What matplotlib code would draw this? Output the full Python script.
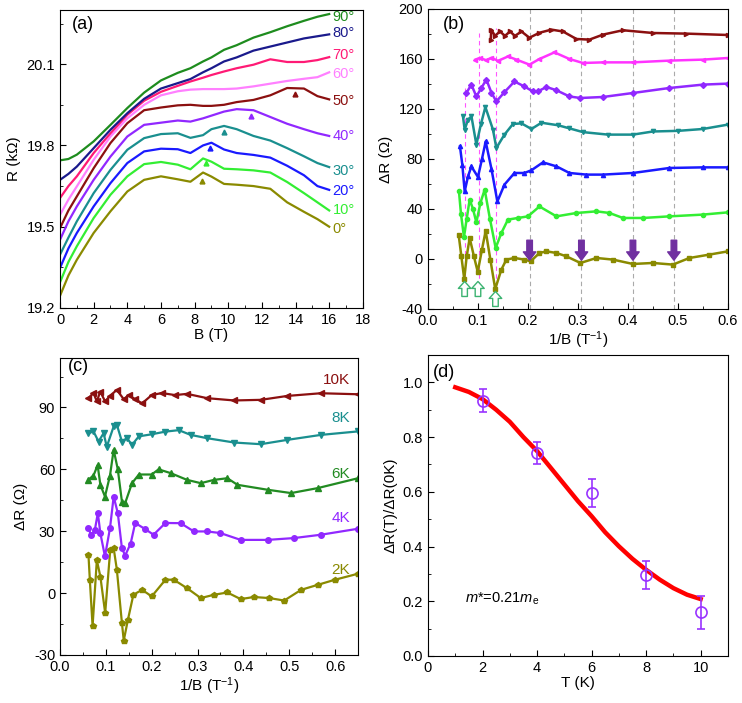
import matplotlib
matplotlib.use('Agg')
import matplotlib.pyplot as plt
from matplotlib.ticker import MultipleLocator

plt.rcParams['font.family'] = ['Liberation Sans', 'DejaVu Sans']
plt.rcParams['mathtext.fontset'] = 'custom'
plt.rcParams['mathtext.rm'] = 'Liberation Sans'
plt.rcParams['mathtext.it'] = 'Liberation Sans:italic'
plt.rcParams['font.size'] = 10
plt.rcParams['axes.unicode_minus'] = False

# ---------------- panel (a): R vs B for different angles ----------------
b_a = [0, 0.5, 1, 2, 3, 4, 5, 6, 7, 7.75, 8.5, 9, 9.75, 10.5, 11.5, 12.5, 13.5, 14.5, 15.3, 16]
r_0 = [19.245, 19.32, 19.378, 19.477, 19.557, 19.63, 19.673, 19.686, 19.675, 19.666, 19.70, 19.685,
       19.658, 19.655, 19.65, 19.64, 19.59, 19.555, 19.528, 19.50]
r_10 = [19.295, 19.37, 19.428, 19.532, 19.618, 19.686, 19.731, 19.739, 19.729, 19.712, 19.752, 19.74,
        19.714, 19.712, 19.708, 19.70, 19.665, 19.624, 19.59, 19.56]
r_20 = [19.348, 19.42, 19.477, 19.575, 19.661, 19.735, 19.778, 19.788, 19.786, 19.772, 19.80, 19.81,
        19.785, 19.772, 19.765, 19.755, 19.725, 19.69, 19.65, 19.636]
r_30 = [19.397, 19.46, 19.52, 19.624, 19.71, 19.784, 19.827, 19.842, 19.845, 19.828, 19.838, 19.86,
        19.872, 19.86, 19.835, 19.818, 19.79, 19.76, 19.735, 19.72]
r_40 = [19.452, 19.52, 19.575, 19.673, 19.759, 19.833, 19.876, 19.884, 19.892, 19.888, 19.90, 19.91,
        19.925, 19.934, 19.93, 19.905, 19.88, 19.86, 19.845, 19.835]
r_50 = [19.495, 19.56, 19.612, 19.716, 19.809, 19.882, 19.93, 19.94, 19.948, 19.95, 19.946, 19.946,
        19.95, 19.96, 19.968, 19.985, 20.012, 20.01, 19.982, 19.97]
r_60 = [19.544, 19.60, 19.649, 19.747, 19.833, 19.90, 19.95, 19.985, 20.0, 20.006, 20.008, 20.008,
        20.008, 20.01, 20.018, 20.028, 20.038, 20.046, 20.052, 20.07]
r_70 = [19.606, 19.65, 19.686, 19.772, 19.845, 19.913, 19.965, 19.998, 20.02, 20.036, 20.05, 20.06,
        20.073, 20.085, 20.098, 20.118, 20.108, 20.108, 20.115, 20.126]
r_80 = [19.673, 19.695, 19.722, 19.79, 19.858, 19.919, 19.972, 20.01, 20.03, 20.045, 20.07, 20.085,
        20.11, 20.125, 20.15, 20.165, 20.18, 20.195, 20.203, 20.21]
r_90 = [19.745, 19.75, 19.766, 19.815, 19.876, 19.938, 19.995, 20.04, 20.068, 20.085, 20.11, 20.125,
        20.153, 20.17, 20.198, 20.218, 20.24, 20.26, 20.275, 20.285]
angle_labels = ['0°', '10°', '20°', '30°', '40°', '50°', '60°', '70°', '80°', '90°']
angle_label_y = [19.491, 19.56, 19.63, 19.704, 19.833, 19.965, 20.064, 20.134, 20.214, 20.273]
angle_colors = ['#8a8a00', '#33ee33', '#1a1aff', '#1a8f8f', '#9128ff',
                '#8b1010', '#ff80ff', '#ff1a75', '#1a1a8c', '#1e8c1e']
peak_b = [8.41, 8.69, 8.91, 9.75, 11.34, 13.98]
peak_r = [19.667, 19.735, 19.79, 19.848, 19.909, 19.989]

# ---------------- panel (b): dR vs 1/B ----------------
xb_0 = [0.0613, 0.0668, 0.0725, 0.0774, 0.0834, 0.092, 0.0995, 0.108, 0.1154, 0.1248, 0.1345, 0.1468,
        0.1568, 0.173, 0.193, 0.2054, 0.223, 0.237, 0.257, 0.277, 0.305, 0.337, 0.37, 0.41, 0.45,
        0.49, 0.523, 0.563, 0.6]
yb_0 = [19.5, 2, -16, 2, 16.8, 2, -10.3, 7.5, 22.5, -0.5, -24, -8.5,
        -0.5, 0.8, -0.5, -1.9, 4.8, 6.1, 4.8, 2.1, -3.2, 0.8, -0.5, -4, -3.2,
        -4.5, 0.8, 3.5, 6.1]
xb_10 = [0.062, 0.066, 0.072, 0.0774, 0.0834, 0.09, 0.0968, 0.105, 0.1134, 0.124, 0.1354, 0.1468,
         0.16, 0.18, 0.2, 0.223, 0.257, 0.297, 0.337, 0.363, 0.39, 0.43, 0.483, 0.55, 0.6]
yb_10 = [54, 36, 17.6, 32, 47.5, 40, 29.3, 45, 55.5, 32, 8.8, 20.8,
         31.5, 32.8, 34.1, 42, 34.1, 36.8, 38.1, 36.8, 32.8, 32.8, 34.1, 35.5, 37.3]
xb_20 = [0.064, 0.0688, 0.0734, 0.08, 0.0868, 0.1, 0.108, 0.1154, 0.127, 0.1388, 0.153, 0.173,
         0.193, 0.207, 0.23, 0.257, 0.283, 0.317, 0.35, 0.41, 0.483, 0.55, 0.6]
yb_20 = [90, 75, 54, 66, 74, 65.6, 80, 94, 72, 46, 59.5, 68.8,
         68.8, 71, 77.3, 74.1, 68.8, 67.5, 67.5, 68.8, 72.8, 73.3, 73.3]
xb_30 = [0.07, 0.0734, 0.08, 0.087, 0.0968, 0.106, 0.1148, 0.13, 0.1368, 0.153, 0.17, 0.187,
         0.207, 0.227, 0.26, 0.283, 0.31, 0.36, 0.41, 0.45, 0.5, 0.55, 0.6]
yb_30 = [114, 103.5, 111.5, 114, 91.5, 108, 121.6, 103.5, 88.8, 99.5, 108, 108.5,
         104, 109, 107, 104.5, 101.5, 99.5, 99.5, 102, 102.5, 104, 107.5]
xb_40 = [0.0768, 0.0868, 0.0968, 0.107, 0.1168, 0.127, 0.1368, 0.153, 0.173, 0.193, 0.21, 0.22,
         0.237, 0.257, 0.283, 0.305, 0.35, 0.41, 0.483, 0.55, 0.6]
yb_40 = [132.8, 139.5, 130, 137, 143.5, 133, 126, 133.5, 142, 138, 134, 134.1,
         137.6, 135, 130, 128.8, 129.6, 132.8, 136.8, 139.5, 140.3]
xb_60 = [0.0948, 0.1034, 0.117, 0.127, 0.14, 0.16, 0.177, 0.203, 0.223, 0.253, 0.283, 0.31,
         0.35, 0.41, 0.483, 0.55, 0.6]
yb_60 = [159.5, 160.8, 159, 161, 158.5, 162, 159.5, 155.5, 160, 165.3, 160, 156.8,
         157.3, 157.3, 158.7, 159.5, 160.8]
xb_70 = [0.1254, 0.1268, 0.134, 0.144, 0.154, 0.164, 0.174, 0.187, 0.203, 0.223, 0.247, 0.27,
         0.297, 0.323, 0.35, 0.39, 0.45, 0.517, 0.6]
yb_70 = [175.5, 183.5, 178.5, 182, 178.5, 182, 178.5, 182, 177, 181, 183.5, 182,
         176, 175.5, 179.5, 183, 180.8, 180.3, 179.2]
gray_lines = [0.2033, 0.307, 0.41, 0.492]
pink_x = [0.0733, 0.102, 0.136]
pink_top = [137, 181, 185]
down_arrow_x = [0.2033, 0.307, 0.41, 0.492]
up_arrow_x = [0.0733, 0.100, 0.135]
up_arrow_base = [-30, -30, -38]

# ---------------- panel (c): dR vs 1/B at different T ----------------
xc_2 = [0.062, 0.065, 0.071, 0.0803, 0.088, 0.0985, 0.1095, 0.117, 0.124, 0.135, 0.139, 0.148,
        0.16, 0.179, 0.2, 0.23, 0.248, 0.277, 0.307, 0.336, 0.365, 0.394, 0.423, 0.456, 0.489,
        0.526, 0.562, 0.6, 0.65]
yc_2 = [18.6, 6.5, -16, 16, 8, -9.7, 21, 21.8, 11.3, -14.5, -23, -13,
        -0.8, 1.6, -1.6, 6.5, 6.5, 2.4, -2.4, -0.8, 0.3, -2.9, -1.9, -2.4, -3.6,
        1.6, 4, 6.5, 9.4]
xc_4 = [0.062, 0.068, 0.076, 0.0825, 0.088, 0.098, 0.109, 0.117, 0.126, 0.135, 0.142, 0.154,
        0.164, 0.186, 0.204, 0.23, 0.263, 0.292, 0.321, 0.35, 0.394, 0.453, 0.511, 0.569, 0.65]
yc_4 = [31.5, 28, 30.7, 38.8, 29, 17.8, 31.5, 46.8, 38.8, 21.8, 18.2, 24,
        34, 31, 28.3, 34, 33.9, 29.9, 29.9, 29.1, 25.8, 25.8, 26.7, 28.3, 31.2]
xc_6 = [0.062, 0.073, 0.082, 0.088, 0.098, 0.109, 0.117, 0.126, 0.135, 0.142, 0.157, 0.172,
        0.2, 0.215, 0.241, 0.277, 0.307, 0.336, 0.365, 0.387, 0.453, 0.504, 0.562, 0.65]
yc_6 = [55, 57, 62, 52.5, 46.8, 57, 69.5, 60, 44.4, 43.6, 53.3, 57.5,
        57.5, 60, 58.2, 54.9, 53.3, 54.9, 55.7, 52.5, 50.1, 48.5, 50.9, 55.7]
xc_8 = [0.062, 0.073, 0.084, 0.095, 0.102, 0.117, 0.124, 0.135, 0.146, 0.157, 0.172, 0.2,
        0.23, 0.259, 0.285, 0.321, 0.380, 0.438, 0.496, 0.569, 0.65]
yc_8 = [77.5, 78.4, 73.5, 77.5, 71, 80.8, 81.6, 73.5, 75.1, 71.9, 76, 77,
        78.3, 79, 76.7, 75.1, 73, 72.2, 74.3, 76.7, 78.4]
xc_10 = [0.062, 0.073, 0.0803, 0.0876, 0.0985, 0.109, 0.124, 0.139, 0.1496, 0.164, 0.179, 0.2,
         0.222, 0.251, 0.277, 0.321, 0.380, 0.438, 0.496, 0.569, 0.65]
yc_10 = [94.5, 97, 92.9, 97.7, 92.9, 95.7, 98.5, 94, 96, 94, 92, 96,
         97, 96, 96.6, 94.5, 93.4, 93.7, 95.6, 96.9, 96.4]
temp_labels = ['2K', '4K', '6K', '8K', '10K']
temp_label_y = [11.3, 36.3, 57.8, 84.8, 103.4]
temp_colors = ['#8a8a00', '#9128ff', '#228b22', '#1a8f8f', '#8b1010']
temp_markers = ['p', 'o', '^', 'v', '<']

# ---------------- panel (d): amplitude vs T ----------------
t_pts = [2, 4, 6, 8, 10]
amp_pts = [0.933, 0.743, 0.597, 0.297, 0.16]
amp_err = [0.042, 0.04, 0.051, 0.051, 0.061]
t_fit = [1.0, 1.5, 2.0, 2.5, 3.0, 3.5, 4.0, 4.5, 5.0, 5.5, 6.0, 6.5, 7.0, 7.5, 8.0, 8.5, 9.0, 9.5, 10.0]
amp_fit = [0.982, 0.965, 0.939, 0.90, 0.856, 0.80, 0.749, 0.688, 0.627, 0.566, 0.511, 0.452, 0.401,
           0.355, 0.315, 0.279, 0.248, 0.224, 0.208]


def style_axis(ax):
    ax.tick_params(which='both', direction='in', top=False, right=False, labelsize=10.5)
    ax.tick_params(which='major', length=4)
    ax.tick_params(which='minor', length=2)


fig = plt.figure(figsize=(7.42, 7.03), dpi=100)
ax_a = fig.add_axes([0.0809, 0.5619, 0.4081, 0.4239])
ax_b = fig.add_axes([0.5768, 0.5605, 0.4042, 0.4267])
ax_c = fig.add_axes([0.0809, 0.0683, 0.4016, 0.4225])
ax_d = fig.add_axes([0.5768, 0.0669, 0.4042, 0.4281])

# (a)
curves_a = [r_0, r_10, r_20, r_30, r_40, r_50, r_60, r_70, r_80, r_90]
for r, c, lab, ly in zip(curves_a, angle_colors, angle_labels, angle_label_y):
    ax_a.plot(b_a, r, color=c, lw=1.6)
    ax_a.text(16.2, ly, lab, color=c, fontsize=10.5, va='center', ha='left')
for b, r, c in zip(peak_b, peak_r, angle_colors):
    ax_a.plot(b, r, marker='^', color=c, ms=3.5, ls='none')
ax_a.set_xlim(0, 18)
ax_a.set_ylim(19.2, 20.3)
ax_a.set_yticks([19.2, 19.5, 19.8, 20.1])
ax_a.xaxis.set_major_locator(MultipleLocator(2))
ax_a.xaxis.set_minor_locator(MultipleLocator(1))
ax_a.yaxis.set_minor_locator(MultipleLocator(0.15))
ax_a.set_xlabel('B (T)', fontsize=11, labelpad=1)
ax_a.set_ylabel('R (k\u03a9)', fontsize=11)
ax_a.text(0.04, 0.95, '(a)', transform=ax_a.transAxes, fontsize=13, va='center')
style_axis(ax_a)

# (b)
for gx in gray_lines:
    ax_b.axvline(gx, color='#aaaaaa', ls=(0, (4, 3)), lw=0.8, zorder=0)
for px, pt in zip(pink_x, pink_top):
    ax_b.plot([px, px], [-22, pt], color='#ff55ff', ls=(0, (4, 3)), lw=0.8, zorder=0)
series_b = [(xb_0, yb_0, '#8a8a00', 's'), (xb_10, yb_10, '#33ee33', 'o'),
            (xb_20, yb_20, '#1a1aff', '^'), (xb_30, yb_30, '#1a8f8f', 'v'),
            (xb_40, yb_40, '#9128ff', 'D'), (xb_60, yb_60, '#ff33ff', '<'),
            (xb_70, yb_70, '#8b1010', '>')]
for xs, ys, c, m in series_b:
    ax_b.plot(xs, ys, color=c, lw=1.8, marker=m, ms=3, mec=c, mfc=c)
for ax_x in down_arrow_x:
    ax_b.annotate('', xy=(ax_x, -1), xytext=(ax_x, 15),
                  arrowprops=dict(facecolor='#7030a0', edgecolor='#7030a0', width=4,
                                  headwidth=9, headlength=6, shrink=0))
for ux, ub in zip(up_arrow_x, up_arrow_base):
    ax_b.annotate('', xy=(ux, ub + 12), xytext=(ux, ub),
                  arrowprops=dict(facecolor='white', edgecolor='#3cb371', width=4,
                                  headwidth=9, headlength=5, shrink=0, lw=1))
ax_b.set_xlim(0, 0.6)
ax_b.set_ylim(-40, 200)
ax_b.xaxis.set_major_locator(MultipleLocator(0.1))
ax_b.xaxis.set_minor_locator(MultipleLocator(0.05))
ax_b.yaxis.set_major_locator(MultipleLocator(40))
ax_b.yaxis.set_minor_locator(MultipleLocator(20))
ax_b.set_xlabel('1/B (T$^{-1}$)', fontsize=11, labelpad=1)
ax_b.set_ylabel('\u0394R (\u03a9)', fontsize=11)
ax_b.text(0.05, 0.947, '(b)', transform=ax_b.transAxes, fontsize=13, va='center')
style_axis(ax_b)

# (c)
series_c = [(xc_2, yc_2), (xc_4, yc_4), (xc_6, yc_6), (xc_8, yc_8), (xc_10, yc_10)]
for (xs, ys), c, m, lab, ly in zip(series_c, temp_colors, temp_markers, temp_labels, temp_label_y):
    ax_c.plot(xs, ys, color=c, lw=1.6, marker=m, ms=4, mec=c, mfc=c)
    ax_c.text(0.633, ly, lab, color=c, fontsize=11, ha='right', va='center')
ax_c.set_xlim(0, 0.65)
ax_c.set_ylim(-30, 114)
ax_c.xaxis.set_major_locator(MultipleLocator(0.1))
ax_c.xaxis.set_minor_locator(MultipleLocator(0.05))
ax_c.yaxis.set_major_locator(MultipleLocator(30))
ax_c.yaxis.set_minor_locator(MultipleLocator(15))
ax_c.set_xlabel('1/B (T$^{-1}$)', fontsize=11, labelpad=1)
ax_c.set_ylabel('\u0394R (\u03a9)', fontsize=11)
ax_c.text(0.027, 0.97, '(c)', transform=ax_c.transAxes, fontsize=13, va='center')
style_axis(ax_c)

# (d)
ax_d.plot(t_fit, amp_fit, color='#ff0000', lw=3.2)
ax_d.errorbar(t_pts, amp_pts, yerr=amp_err, fmt='o', ms=8, mfc='none', mec='#9933ff',
              ecolor='#9933ff', capsize=3, elinewidth=1.2, mew=1.2)
ax_d.set_xlim(0, 11)
ax_d.xaxis.set_major_locator(MultipleLocator(2))
ax_d.xaxis.set_minor_locator(MultipleLocator(1))
ax_d.yaxis.set_major_locator(MultipleLocator(0.2))
ax_d.yaxis.set_minor_locator(MultipleLocator(0.1))
ax_d.set_ylim(0, 1.1)
ax_d.yaxis.set_major_formatter(matplotlib.ticker.FormatStrFormatter('%.1f'))
ax_d.set_xlabel('T (K)', fontsize=11, labelpad=1)
ax_d.set_ylabel('\u0394R(T)/\u0394R(0K)', fontsize=11)
ax_d.text(0.017, 0.943, '(d)', transform=ax_d.transAxes, fontsize=13, va='center')
ax_d.text(1.35, 0.21, '$m$*=0.21$m_{\\rm e}$', fontsize=10.5, va='center')
style_axis(ax_d)

fig.savefig('out.png', dpi=100)
